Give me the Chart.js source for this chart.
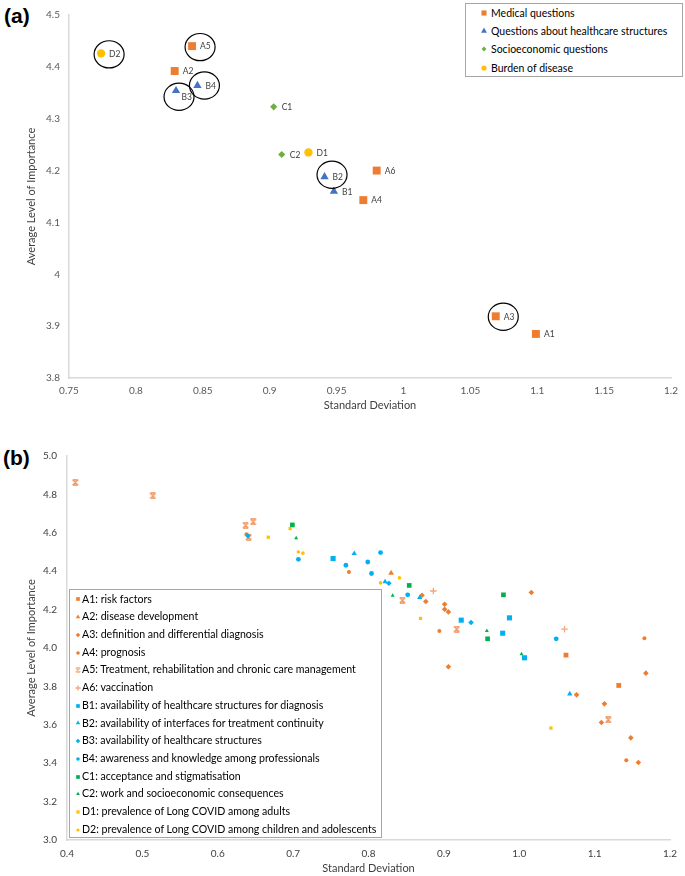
<!DOCTYPE html>
<html><head><meta charset="utf-8">
<script src="https://cdn.jsdelivr.net/npm/chart.js@4.4.1/dist/chart.umd.min.js"></script>
<style>
html,body{margin:0;padding:0;background:#fff;}
body{width:685px;height:876px;position:relative;overflow:hidden;font-family:Lato,'Open Sans',sans-serif;}
#wa{position:absolute;left:0;top:0;width:685px;height:420px}
#wb{position:absolute;left:0;top:440px;width:685px;height:436px}
.tag{position:absolute;font:bold 21px 'Liberation Sans',Arial,sans-serif;color:#000;line-height:24px}
.legend{position:absolute;border:1px solid #a6a6a6;background:#fff;box-sizing:border-box}
.row{position:absolute;left:0;white-space:nowrap;color:#000}
.row canvas{position:absolute}
.row span{position:absolute;white-space:nowrap}
</style></head>
<body>
<div class="tag" style="left:4px;top:4px">(a)</div>
<div class="tag" style="left:3px;top:446px">(b)</div>
<div id="wa"><canvas id="ca" width="685" height="420"></canvas></div>
<div id="wb"><canvas id="cb" width="685" height="436"></canvas></div>
<div id="la" class="legend" style="left:465px;top:3px;width:218px;height:74px"></div>
<div id="lb" class="legend" style="left:69px;top:589px;width:313px;height:249px"></div>
<script>
// ================= Chart (a): averages per question =================
const aGroupNames = ['Medical questions','Questions about healthcare structures','Socioeconomic questions','Burden of disease'];
const aMedLabels = ['A1','A2','A3','A4','A5','A6'];
const aMedSD     = [1.099,0.829,1.069,0.970,0.842,0.980];
const aMedMean   = [3.885,4.392,3.919,4.143,4.440,4.200];
const aStrLabels = ['B1','B2','B3','B4'];
const aStrSD     = [0.948,0.941,0.830,0.846];
const aStrMean   = [4.160,4.188,4.354,4.364];
const aSocLabels = ['C1','C2'];
const aSocSD     = [0.903,0.909];
const aSocMean   = [4.323,4.231];
const aBurLabels = ['D1','D2'];
const aBurSD     = [0.929,0.774];
const aBurMean   = [4.235,4.426];
const aCircled   = ['A3','A5','B2','B3','B4','D2'];
const aXTicks = [0.75,0.8,0.85,0.9,0.95,1,1.05,1.1,1.15,1.2];
const aYTicks = [3.8,3.9,4,4.1,4.2,4.3,4.4,4.5];

// ================= Chart (b): per subgroup =================
const bNames = [
 'A1: risk factors','A2: disease development','A3: definition and differential diagnosis','A4: prognosis',
 'A5: Treatment, rehabilitation and chronic care management','A6: vaccination',
 'B1: availability of healthcare structures for diagnosis','B2: availability of interfaces for treatment continuity',
 'B3: availability of healthcare structures','B4: awareness and knowledge among professionals',
 'C1: acceptance and stigmatisation','C2: work and socioeconomic consequences',
 'D1: prevalence of Long COVID among adults','D2: prevalence of Long COVID among children and adolescents'];
const bA1SD=[1.062,1.132], bA1Mean=[3.963,3.805];
const bA2SD=[0.830], bA2Mean=[4.390];
const bA3SD=[0.871,0.876,0.901,0.901,0.906,1.016,0.906,1.168,1.076,1.113,1.109,1.148,1.158];
const bA3Mean=[4.275,4.242,4.228,4.202,4.188,4.289,3.902,3.869,3.756,3.709,3.612,3.532,3.404];
const bA4SD=[0.638,0.774,0.725,0.894,1.166,1.142], bA4Mean=[4.593,4.396,4.207,4.089,4.051,3.415];
const bA5SD=[0.411,0.514,0.637,0.647,0.641,0.845,0.917,1.118], bA5Mean=[4.862,4.792,4.639,4.657,4.578,4.249,4.098,3.626];
const bA6SD=[0.886,1.060], bA6Mean=[4.297,4.098];
const bB1SD=[0.753,0.923,0.987,0.978,1.007], bB1Mean=[4.466,4.145,4.157,4.077,3.949];
const bB2SD=[0.781,0.822,0.868,1.067], bB2Mean=[4.492,4.345,4.263,3.761];
const bB3SD=[0.640,0.827,0.936], bB3Mean=[4.585,4.337,4.133];
const bB4SD=[0.707,0.770,0.799,0.816,0.804,0.852,1.049], bB4Mean=[4.462,4.431,4.448,4.497,4.388,4.277,4.048];
const bC1SD=[0.699,0.854,0.979,0.958], bC1Mean=[4.641,4.326,4.277,4.048];
const bC2SD=[0.704,0.832,0.957,1.003], bC2Mean=[4.573,4.273,4.089,3.968];
const bD1SD=[0.667,0.696,0.869,1.042], bD1Mean=[4.577,4.622,4.154,3.583];
const bD2SD=[0.707,0.713,0.816,0.841], bD2Mean=[4.500,4.494,4.339,4.365];
const bXTicks=[0.4,0.5,0.6,0.7,0.8,0.9,1.0,1.1,1.2];
const bYTicks=[3.0,3.2,3.4,3.6,3.8,4.0,4.2,4.4,4.6,4.8,5.0];

// ---------------- helpers ----------------
const pts = (xs, ys) => xs.map((x, i) => ({x: x, y: ys[i]}));
function hourglass(size, color){
  const c = document.createElement('canvas'); c.width = size; c.height = size;
  const g = c.getContext('2d'); g.strokeStyle = color; g.lineWidth = 1.2;
  const a = 0.8, b = size - 0.8;
  g.beginPath();
  g.moveTo(a,a); g.lineTo(b,b); g.moveTo(b,a); g.lineTo(a,b);
  g.moveTo(a,a); g.lineTo(b,a); g.moveTo(a,b); g.lineTo(b,b);
  g.stroke();
  return c;
}
function fixedWidth(w){ return s => { s.width = w; }; }
function fixedHeight(h){ return s => { s.height = h; }; }

// ---------------- chart (a) ----------------
const ORANGE='#ED7D31', BLUE_A='#4472C4', GREEN_A='#70AD47', YELLOW='#FFC000';
const aStyles = [
  {color:ORANGE, style:'rect', r:5.6, lr:3.6},
  {color:BLUE_A, style:'triangle', r:4.8, lr:3.4},
  {color:GREEN_A, style:'rectRot', r:3.6, lr:2.4},
  {color:YELLOW, style:'circle', r:4.2, lr:2.6}
];
const aSeries = [
  {labels:aMedLabels, sd:aMedSD, mean:aMedMean},
  {labels:aStrLabels, sd:aStrSD, mean:aStrMean},
  {labels:aSocLabels, sd:aSocSD, mean:aSocMean},
  {labels:aBurLabels, sd:aBurSD, mean:aBurMean}
];
const aLabelOffset = {B3:[5.5,6.5]};
const aCircleOffset = {B3:[3,6], B2:[7.5,-2], B4:[7,0], A3:[7.5,0.5]};

const aLabelPlugin = {
  id:'aLabels',
  afterDatasetsDraw(chart){
    const ctx = chart.ctx;
    ctx.save();
    ctx.font = '8.5px Lato'; ctx.fillStyle = '#404040'; ctx.textBaseline = 'middle';
    ctx.strokeStyle = '#000'; ctx.lineWidth = 1.2;
    chart.data.datasets.forEach((ds, di) => {
      const meta = chart.getDatasetMeta(di);
      meta.data.forEach((el, i) => {
        const name = ds.pointNames[i];
        const lo = aLabelOffset[name] || [8, 0.5];
        ctx.fillText(name, el.x + lo[0], el.y + lo[1]);
        if (aCircled.includes(name)) {
          const co = aCircleOffset[name] || [8, 1];
          ctx.beginPath();
          ctx.ellipse(el.x + co[0], el.y + co[1], 15, 13.6, 0, 0, Math.PI*2);
          ctx.stroke();
        }
      });
    });
    ctx.restore();
  }
};

new Chart(document.getElementById('ca'), {
  type:'scatter',
  data:{datasets: aSeries.map((s, i) => ({
    label: aGroupNames[i],
    pointNames: s.labels,
    data: pts(s.sd, s.mean),
    pointStyle: aStyles[i].style,
    pointRadius: aStyles[i].r,
    backgroundColor: aStyles[i].color,
    borderColor: aStyles[i].color,
    borderWidth: 0,
    order: aSeries.length - i
  }))},
  options:{
    responsive:false, animation:false, events:[],
    layout:{padding:{left:0, top:15, right:12, bottom:2}},
    plugins:{legend:{display:false}, tooltip:{enabled:false}},
    scales:{
      x:{type:'linear', min:0.75, max:1.2,
        afterBuildTicks: s => { s.ticks = aXTicks.map(v => ({value:v})); },
        afterFit: fixedHeight(40),
        grid:{display:false, drawTicks:false},
        border:{display:true, color:'#d9d9d9', width:1.5},
        ticks:{padding:7, color:'#595959', font:{family:'Lato', size:10}, callback: v => String(+v.toFixed(2))},
        title:{display:true, text:'Standard Deviation', color:'#404040', font:{family:'Lato', size:11}, padding:{top:4, bottom:6}}
      },
      y:{type:'linear', min:3.8, max:4.5,
        afterBuildTicks: s => { s.ticks = aYTicks.map(v => ({value:v})); },
        afterFit: fixedWidth(69),
        grid:{display:false, drawTicks:false},
        border:{display:true, color:'#d9d9d9', width:1.5},
        ticks:{padding:9, color:'#595959', font:{family:'Lato', size:10}, callback: v => String(+v.toFixed(2))},
        title:{display:true, text:'Average Level of Importance', color:'#404040', font:{family:'Lato', size:11}, padding:{top:25, bottom:4}}
      }
    }
  },
  plugins:[aLabelPlugin]
});

// ---------------- chart (b) ----------------
const BLUE_B='#00B0F0', GREEN_B='#00B050', LIGHT_OR='#F4A77A';
const bSeries = [
  [bA1SD,bA1Mean],[bA2SD,bA2Mean],[bA3SD,bA3Mean],[bA4SD,bA4Mean],[bA5SD,bA5Mean],[bA6SD,bA6Mean],
  [bB1SD,bB1Mean],[bB2SD,bB2Mean],[bB3SD,bB3Mean],[bB4SD,bB4Mean],
  [bC1SD,bC1Mean],[bC2SD,bC2Mean],[bD1SD,bD1Mean],[bD2SD,bD2Mean]];
const bStyles = [
  {color:ORANGE, style:'rect', r:3.4, lr:2.6},
  {color:ORANGE, style:'triangle', r:3.3, lr:2.6},
  {color:ORANGE, style:'rectRot', r:2.8, lr:2.3},
  {color:ORANGE, style:'circle', r:2.0, lr:1.8},
  {color:'#F0894C', style:hourglass(7,'#F0894C'), legendStyle:hourglass(6,'#F4B183'), r:3.5, lr:3},
  {color:LIGHT_OR, style:'cross', r:3.3, lr:2.6, bw:1.3},
  {color:BLUE_B, style:'rect', r:3.6, lr:2.6},
  {color:BLUE_B, style:'triangle', r:3.1, lr:2.6},
  {color:BLUE_B, style:'rectRot', r:2.8, lr:2.3},
  {color:BLUE_B, style:'circle', r:2.4, lr:1.8},
  {color:GREEN_B, style:'rect', r:3.3, lr:2.6},
  {color:GREEN_B, style:'triangle', r:2.3, lr:2.2},
  {color:YELLOW, style:'rect', r:2.3, lr:2.3},
  {color:YELLOW, style:'circle', r:1.8, lr:1.6}
];

new Chart(document.getElementById('cb'), {
  type:'scatter',
  data:{datasets: bSeries.map((s, i) => ({
    label: bNames[i],
    data: pts(s[0], s[1]),
    pointStyle: bStyles[i].style,
    pointRadius: bStyles[i].r,
    backgroundColor: bStyles[i].color,
    borderColor: bStyles[i].color,
    borderWidth: bStyles[i].bw || 0,
    order: bSeries.length - i
  }))},
  options:{
    responsive:false, animation:false, events:[],
    layout:{padding:{left:0, top:16, right:8, bottom:0}},
    plugins:{legend:{display:false}, tooltip:{enabled:false}},
    scales:{
      x:{type:'linear', min:0.4, max:1.2,
        afterBuildTicks: s => { s.ticks = bXTicks.map(v => ({value:v})); },
        afterFit: fixedHeight(36),
        grid:{display:false, drawTicks:false},
        border:{display:true, color:'#d9d9d9', width:1.5},
        ticks:{padding:8, color:'#404040', font:{family:'Lato', size:10}, callback: v => v.toFixed(1)},
        title:{display:true, text:'Standard Deviation', color:'#404040', font:{family:'Lato', size:11}, padding:{top:4, bottom:0.5}}
      },
      y:{type:'linear', min:3.0, max:5.0,
        afterBuildTicks: s => { s.ticks = bYTicks.map(v => ({value:v})); },
        afterFit: fixedWidth(67),
        grid:{display:false, drawTicks:false},
        border:{display:true, color:'#d9d9d9', width:1.5},
        ticks:{padding:10, color:'#404040', font:{family:'Lato', size:10}, callback: v => v.toFixed(1)},
        title:{display:true, text:'Average Level of Importance', color:'#404040', font:{family:'Lato', size:11}, padding:{top:25, bottom:4}}
      }
    }
  }
});

// ---------------- HTML legends ----------------
function drawMarker(cv, st, r){
  const g = cv.getContext('2d');
  g.fillStyle = st.color; g.strokeStyle = st.color; g.lineWidth = st.bw || 1;
  const ps = st.legendStyle || st.style;
  const opts = {pointStyle: ps, rotation:0, radius:r, borderWidth: (st.bw || 0)};
  if (Chart.helpers && Chart.helpers.drawPoint) Chart.helpers.drawPoint(g, opts, cv.width/2, cv.height/2);
}
function buildLegend(id, names, styles, opt){
  const box = document.getElementById(id);
  names.forEach((n, i) => {
    const row = document.createElement('div');
    row.className = 'row';
    row.style.top = (opt.top + i*opt.step) + 'px';
    row.style.height = opt.step + 'px';
    const cv = document.createElement('canvas'); cv.width = 12; cv.height = 12;
    cv.style.left = (opt.mx - 6) + 'px'; cv.style.top = (opt.step/2 - 6) + 'px';
    drawMarker(cv, styles[i], styles[i].lr);
    const sp = document.createElement('span');
    sp.textContent = n;
    sp.style.left = opt.tx + 'px';
    sp.style.font = opt.font;
    sp.style.lineHeight = opt.step + 'px';
    sp.style.top = (opt.ty||0) + 'px';
    row.appendChild(cv); row.appendChild(sp);
    box.appendChild(row);
  });
}
buildLegend('la', aGroupNames, aStyles, {top:-0.5, step:18.35, mx:18, tx:25, font:'10.5px Lato'});
buildLegend('lb', bNames, bStyles, {top:0.5, step:17.72, mx:8, tx:12, font:'10.6px Lato'});
</script>
</body></html>
